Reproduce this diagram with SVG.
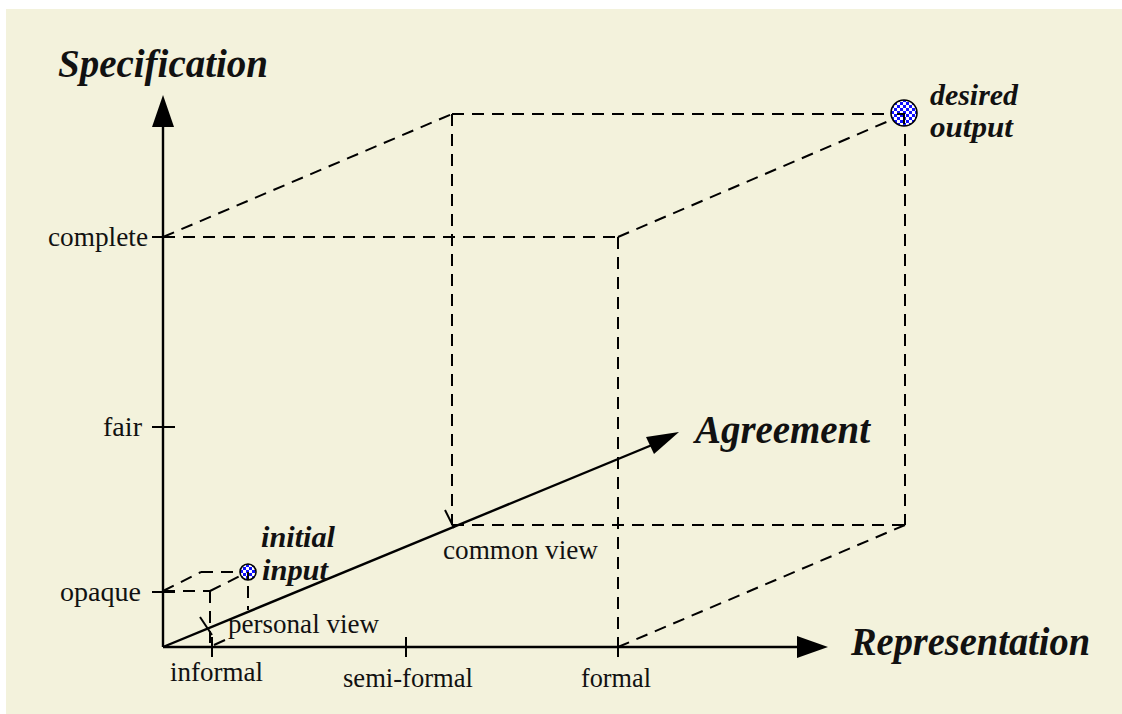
<svg xmlns="http://www.w3.org/2000/svg" width="1122" height="714" viewBox="0 0 1122 714">
  <style>
    .axis { stroke: #000; stroke-width: 2.4; fill: none; }
    .tick { stroke: #000; stroke-width: 2; fill: none; }
    .dash { stroke: #000; stroke-width: 2; fill: none; stroke-dasharray: 12 8; }
    .head { fill: #000; stroke: none; }
    .lbl { font-family: "Liberation Serif", "Times New Roman", serif; font-size: 27px; fill: #111; }
    .title { font-family: "Liberation Serif", "Times New Roman", serif; font-size: 40px; font-weight: bold; font-style: italic; fill: #111; }
    .pt { font-family: "Liberation Serif", "Times New Roman", serif; font-size: 29px; font-weight: bold; font-style: italic; fill: #111; }
    .dot { fill: url(#checker); stroke: #000; stroke-width: 1.6; }
  </style>
  <defs>
    <pattern id="checker" patternUnits="userSpaceOnUse" width="6" height="6">
      <rect width="6" height="6" fill="#ffffff"/>
      <rect x="0" y="0" width="3" height="3" fill="#1010ff"/>
      <rect x="3" y="3" width="3" height="3" fill="#1010ff"/>
    </pattern>
  </defs>

  <!-- page and cream panel -->
  <rect x="0" y="0" width="1122" height="714" fill="#ffffff"/>
  <rect x="6" y="9" width="1116" height="705" fill="#F3F2DC"/>

  <!-- connectors: axes, ticks and projection lines -->
  <g id="connectors">
    <!-- large cube (complete / formal / common view) -->
    <line class="dash" x1="163" y1="237" x2="618" y2="237"/>
    <line class="dash" x1="618" y1="237" x2="618" y2="647"/>
    <line class="dash" x1="163" y1="237" x2="452" y2="114"/>
    <line class="dash" x1="618" y1="237" x2="905" y2="114"/>
    <line class="dash" x1="618" y1="647" x2="905" y2="525"/>
    <line class="dash" x1="452" y1="114" x2="905" y2="114"/>
    <line class="dash" x1="452" y1="114" x2="452" y2="525"/>
    <line class="dash" x1="452" y1="525" x2="905" y2="525"/>
    <line class="dash" x1="905" y1="114" x2="905" y2="525"/>

    <!-- small cube (opaque / informal / personal view) -->
    <line class="dash" x1="163" y1="591" x2="210" y2="591"/>
    <line class="dash" x1="210" y1="591" x2="210" y2="647"/>
    <line class="dash" x1="163" y1="591" x2="201" y2="572"/>
    <line class="dash" x1="201" y1="572" x2="248" y2="572"/>
    <line class="dash" x1="210" y1="591" x2="248" y2="572"/>
    <line class="dash" x1="248" y1="586" x2="248" y2="610"/>
    <line class="tick" x1="214" y1="645" x2="225" y2="640"/>

    <!-- axes -->
    <line class="axis" x1="163" y1="647" x2="163" y2="125"/>
    <polygon class="head" points="163,95 152,127 174,127"/>
    <line class="axis" x1="163" y1="647" x2="800" y2="647"/>
    <polygon class="head" points="828,647 797,636 797,658"/>
    <line class="axis" x1="163" y1="647" x2="652" y2="445"/>
    <polygon class="head" points="679,432 646,437 654,454"/>

    <!-- axis ticks -->
    <line class="tick" x1="152" y1="237" x2="175" y2="237"/>
    <line class="tick" x1="152" y1="427" x2="175" y2="427"/>
    <line class="tick" x1="152" y1="592" x2="175" y2="592"/>
    <line class="tick" x1="212" y1="637" x2="212" y2="657"/>
    <line class="tick" x1="406" y1="637" x2="406" y2="657"/>
    <line class="tick" x1="618" y1="637" x2="618" y2="657"/>
    <line class="tick" x1="200" y1="617" x2="212" y2="635"/>
    <line class="tick" x1="445" y1="510" x2="454" y2="528"/>
  </g>

  <!-- axis titles -->
  <g id="axis-specification">
    <text class="title" x="58" y="77" textLength="210" lengthAdjust="spacingAndGlyphs">Specification</text>
  </g>
  <g id="axis-representation">
    <text class="title" x="851" y="655" textLength="239" lengthAdjust="spacingAndGlyphs">Representation</text>
  </g>
  <g id="axis-agreement">
    <text class="title" x="695" y="443" textLength="175" lengthAdjust="spacingAndGlyphs">Agreement</text>
  </g>

  <!-- scale labels -->
  <g id="scale-specification">
    <text class="lbl" x="48" y="246" textLength="100" lengthAdjust="spacingAndGlyphs">complete</text>
    <text class="lbl" x="103" y="436" textLength="39" lengthAdjust="spacingAndGlyphs">fair</text>
    <text class="lbl" x="60" y="601" textLength="81" lengthAdjust="spacingAndGlyphs">opaque</text>
  </g>
  <g id="scale-representation">
    <text class="lbl" x="170" y="681" textLength="93" lengthAdjust="spacingAndGlyphs">informal</text>
    <text class="lbl" x="343" y="687" textLength="130" lengthAdjust="spacingAndGlyphs">semi-formal</text>
    <text class="lbl" x="581" y="687" textLength="70" lengthAdjust="spacingAndGlyphs">formal</text>
  </g>
  <g id="scale-agreement">
    <text class="lbl" x="228" y="633" textLength="151" lengthAdjust="spacingAndGlyphs">personal view</text>
    <text class="lbl" x="443" y="559" textLength="155" lengthAdjust="spacingAndGlyphs">common view</text>
  </g>

  <!-- start point -->
  <g id="initial-input">
    <circle class="dot" cx="248" cy="572" r="8"/>
    <line class="tick" x1="248" y1="572" x2="248" y2="580"/>
    <text class="pt" x="261" y="547" textLength="74" lengthAdjust="spacingAndGlyphs">initial</text>
    <text class="pt" x="262" y="580" textLength="66" lengthAdjust="spacingAndGlyphs">input</text>
  </g>

  <!-- end point -->
  <g id="desired-output">
    <circle class="dot" cx="904" cy="113" r="13"/>
    <polyline class="tick" points="897,114 904,114 904,124"/>
    <text class="pt" x="930" y="105" textLength="88" lengthAdjust="spacingAndGlyphs">desired</text>
    <text class="pt" x="930" y="137" textLength="83" lengthAdjust="spacingAndGlyphs">output</text>
  </g>
</svg>
